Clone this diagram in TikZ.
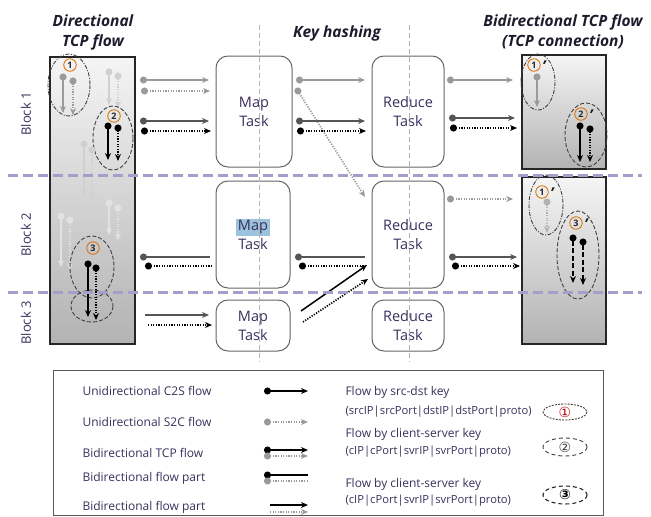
\documentclass[tikz,border=0pt]{standalone}
\usepackage{fontspec}
\setmainfont{Open Sans}
\newfontfamily\djv{DejaVu Sans}
\usetikzlibrary{arrows.meta,shapes.geometric}
\definecolor{txt}{HTML}{3B2F5C}
\definecolor{purp}{HTML}{A99BCB}
\definecolor{lg}{HTML}{9A9A9A}
\definecolor{dg}{HTML}{555555}
\definecolor{fg}{HTML}{D0D0D0}
\definecolor{ffg}{HTML}{E2E2E2}
\definecolor{ttl}{HTML}{1C1C2C}
\definecolor{hl}{HTML}{9CC3DE}
\tikzset{
  taskbox/.style={draw=black!60, line width=1pt, rounded corners=12pt, text=txt, align=center, font=\fontsize{14.5}{19}\selectfont},
  flowbox/.style={draw=black!85, line width=1.1pt, top color=black!4, bottom color=black!30, inner sep=0pt},
  sol/.style={line width=1.5pt},
  dotln/.style={line width=1.7pt, dash pattern=on 1.2pt off 1.4pt},
  dshln/.style={line width=1.6pt, dash pattern=on 5pt off 2.5pt},
  arD/.style={{Circle[length=7pt]}-{Stealth[length=7pt,width=6pt]}},
  arN/.style={{Circle[length=7pt]}-},
  arA/.style={-{Stealth[length=7pt,width=6pt]}},
  cn/.style={circle, draw=orange!85!black, line width=0.8pt, inner sep=0pt, minimum size=12.5pt, text=black!85, font=\fontsize{9}{9}\selectfont\bfseries},
  prm/.style={text=black!90, font=\fontsize{15}{15}\selectfont\bfseries\itshape, inner sep=0pt},
  grpd/.style={draw=black!75, line width=0.9pt, dash pattern=on 4pt off 2pt},
  grpdd/.style={draw=black!75, line width=0.9pt, dash pattern=on 4pt off 1.5pt on 1pt off 1.5pt},
  blk/.style={rotate=90, text=txt, font=\fontsize{13}{15}\selectfont},
  ttlf/.style={text=ttl, align=center, font=\fontsize{15.5}{20}\selectfont\bfseries\itshape},
  blocksep/.style={draw=purp, line width=3pt, dash pattern=on 10pt off 5pt},
  vsep/.style={draw=black!30, line width=0.8pt, dash pattern=on 5pt off 3pt},
  leg/.style={anchor=west, text=txt, font=\fontsize{12}{14}\selectfont},
  legp/.style={anchor=west, text=txt, font=\fontsize{11.2}{13}\selectfont},
  legnum/.style={font=\djv\fontsize{14}{14}\selectfont, inner sep=0pt},
}
\begin{document}
\begin{tikzpicture}[x=1pt,y=-1pt]
\useasboundingbox (0,0) rectangle (651,517);
% titles
\node[ttlf] (t1) at (93,32) {Directional\\TCP flow};
\node[ttlf] (t2) at (337,33) {Key hashing};
\node[ttlf] (t3) at (563,32) {Bidirectional TCP flow\\(TCP connection)};
% block labels
\node[blk] (b1) at (26,114) {Block 1};
\node[blk] (b2) at (26,235) {Block 2};
\node[blk] (b3) at (26,323) {Block 3};
% flow boxes
\node[flowbox, minimum width=85pt, minimum height=287pt] (lbox) at (92.5,200.5) {};
\node[flowbox, minimum width=84pt, minimum height=114pt] (rbox1) at (564,112) {};
\node[flowbox, minimum width=84pt, minimum height=167pt] (rbox2) at (564,260.5) {};
% task boxes
\node[taskbox, minimum width=76pt, minimum height=111pt] (map1) at (254,111.5) {Map\\Task};
\node[taskbox, minimum width=72pt, minimum height=111pt] (red1) at (408,111.5) {Reduce\\Task};
\node[taskbox, minimum width=74pt, minimum height=107pt] (map2) at (253,234.5) {\setlength{\fboxsep}{1.5pt}\colorbox{hl}{Map}\\Task};
\node[taskbox, minimum width=72pt, minimum height=107pt] (red2) at (408,234.5) {Reduce\\Task};
\node[taskbox, minimum width=74pt, minimum height=51pt] (map3) at (253,325.5) {Map\\Task};
\node[taskbox, minimum width=72pt, minimum height=51pt] (red3) at (408,325.5) {Reduce\\Task};
% vertical hashing lines
\coordinate (v1t) at (259,25); \coordinate (v1b) at (259,362);
\coordinate (v2t) at (409,25); \coordinate (v2b) at (409,362);
\draw[vsep] (v1t) -- (v1b);
\draw[vsep] (v2t) -- (v2b);

% ---- left box contents ----
\draw[grpdd] (69,85) ellipse [x radius=21, y radius=31];
\node[cn] (c1) at (70,65) {1};
\draw[sol, lg, arD] (63,73.5) -- (63,113);
\draw[dotln, lg, arD] (73,77.5) -- (73,115);
\draw[sol, fg, arD] (109,68.5) -- (109,105);
\draw[dotln, fg, arD] (118,72.5) -- (118,108);
\draw[grpd] (113,138) ellipse [x radius=20, y radius=32];
\node[cn] (c2) at (114,116) {2};
\draw[sol, black, arD] (108,122.5) -- (108,160);
\draw[dotln, black, arD] (118,124.5) -- (118,161);
\draw[sol, fg, arD] (84,140.5) -- (84,197);
\draw[dotln, fg, arD] (92,146.5) -- (92,200);
\draw[sol, ffg, arD] (109,199.5) -- (109,235);
\draw[dotln, ffg, arD] (118,204.5) -- (118,240);
\draw[sol, ffg, arD] (61,212.5) -- (61,267);
\draw[dotln, ffg, arD] (70,216.5) -- (70,270);
\draw[grpd] (92,267) ellipse [x radius=22, y radius=31];
\draw[grpd] (92,306) ellipse [x radius=21, y radius=16];
\node[cn] (c3) at (93,248) {3};
\draw[sol, black, arD] (88,260.5) -- (88,317);
\draw[dotln, black, arD] (96,264.5) -- (96,320);

% ---- right box 1 ----
\draw[grpdd] (538,82) ellipse [x radius=17, y radius=28];
\node[cn] (r1) at (534,65) {1};
\node[prm] at (544,66) {’};
\draw[sol, lg, arD] (537,73.5) -- (537,107);
\draw[grpd] (586,135) ellipse [x radius=21, y radius=32];
\node[cn] (r2) at (581,114) {2};
\node[prm] at (591,115) {’};
\draw[sol, black, arD] (580,122.5) -- (580,162);
\draw[dotln, black, arD] (590,125.5) -- (590,162);
% ---- right box 2 ----
\draw[grpdd] (546,205) ellipse [x radius=17, y radius=30];
\node[cn] (r3) at (542,192) {1};
\node[prm] at (552,193) {’};
\draw[dotln, lg!75, arD] (547,198.5) -- (547,233);
\draw[grpd] (578,255) ellipse [x radius=21, y radius=44];
\node[cn] (r4) at (576,223) {3};
\node[prm] at (586,224) {’};
\draw[dshln, black, arD] (573,234.5) -- (573,283);
\draw[dshln, black, arD] (583,238.5) -- (583,285);

% ---- block 1 flows ----
\draw[sol, lg, arD] (140,80) -- (209,80);
\draw[dotln, lg, arD] (141,91) -- (210,91);
\draw[sol, dg, arD] (140,121) -- (209,121);
\draw[dotln, black, arD] (141,131) -- (211,131);
\draw[sol, lg, arD] (296,80) -- (365,80);
\draw[dotln, lg, arD] (296,88) -- (365,197);
\draw[sol, dg, arD] (296,121) -- (365,121);
\draw[dotln, black, arD] (297,131) -- (366,131);
\draw[sol, lg, arD] (447,80) -- (513,80);
\draw[sol, dg, arD] (449,118) -- (515,118);
\draw[dotln, black, arD] (450,128) -- (517,128);
% ---- block 2 flows ----
\draw[sol, dg, arN] (140,257) -- (210,257);
\draw[dotln, black, arN] (145,266) -- (212,266);
\draw[sol, dg, arN] (295,257) -- (365,257);
\draw[dotln, black, arN] (299,266) -- (366,266);
\draw[sol, black, arA] (301,311) -- (367,265);
\draw[dotln, black, arA] (303,322) -- (368,279);
\draw[dotln, lg, arD] (447,199) -- (513,199);
\draw[sol, dg, arD] (449,257) -- (517,257);
\draw[dotln, black, arD] (452,266) -- (520,266);
% ---- block 3 flows ----
\draw[sol, dg, arA] (145,315) -- (209,315);
\draw[dotln, black, arA] (148,325) -- (212,325);

% block separators
\coordinate (s1l) at (8,175); \coordinate (s1r) at (642,175);
\coordinate (s2l) at (8,292); \coordinate (s2r) at (642,292);
\draw[blocksep] (s1l) -- (s1r);
\draw[blocksep] (s2l) -- (s2r);

% ---- legend ----
\node[draw=black!65, line width=0.9pt, minimum width=550pt, minimum height=145pt, inner sep=0pt] (legend) at (328,443) {};
\node[leg] (l1) at (79,391) {Unidirectional C2S flow};
\node[leg] (l2) at (79,422) {Unidirectional S2C flow};
\node[leg] (l3) at (79,453) {Bidirectional TCP flow};
\node[leg] (l4) at (79,478) {Bidirectional flow part};
\node[leg] (l5) at (79,507) {Bidirectional flow part};
\draw[sol, black, arD] (264,391) -- (308,391);
\draw[dotln, lg, arD] (264,422) -- (308,422);
\draw[sol, black, arD] (264,450) -- (308,450);
\draw[dotln, lg, arD] (264,456) -- (308,456);
\draw[sol, black, arN] (264,475) -- (308,475);
\draw[dotln, lg, arN] (264,481) -- (308,481);
\draw[sol, black, arA] (270,505) -- (308,505);
\draw[dotln, lg, arA] (270,512) -- (308,512);
\node[leg] (k1) at (342,392) {Flow by src-dst key};
\node[legp] (k1b) at (342,412) {(srcIP|srcPort|dstIP|dstPort|proto)};
\node[leg] (k2) at (342,434) {Flow by client-server key};
\node[legp] (k2b) at (342,452) {(cIP|cPort|svrIP|svrPort|proto)};
\node[leg] (k3) at (342,484) {Flow by client-server key};
\node[legp] (k3b) at (342,501) {(cIP|cPort|svrIP|svrPort|proto)};
\draw[draw=black!75, line width=0.9pt, dash pattern=on 2pt off 1.2pt] (565,412) ellipse [x radius=22, y radius=8];
\node[legnum, text=red!75!black] (n1) at (565,412) {①};
\draw[draw=black!75, line width=0.9pt, dash pattern=on 4pt off 3pt] (565,447) ellipse [x radius=22, y radius=9];
\node[legnum, text=black!75] (n2) at (565,447) {②};
\draw[draw=black!85, line width=1.1pt, dash pattern=on 4pt off 3pt] (565,495) ellipse [x radius=22, y radius=9];
\node[legnum, text=black, font=\djv\bfseries\fontsize{14}{14}\selectfont] (n3) at (565,495) {③};
\end{tikzpicture}
\end{document}
